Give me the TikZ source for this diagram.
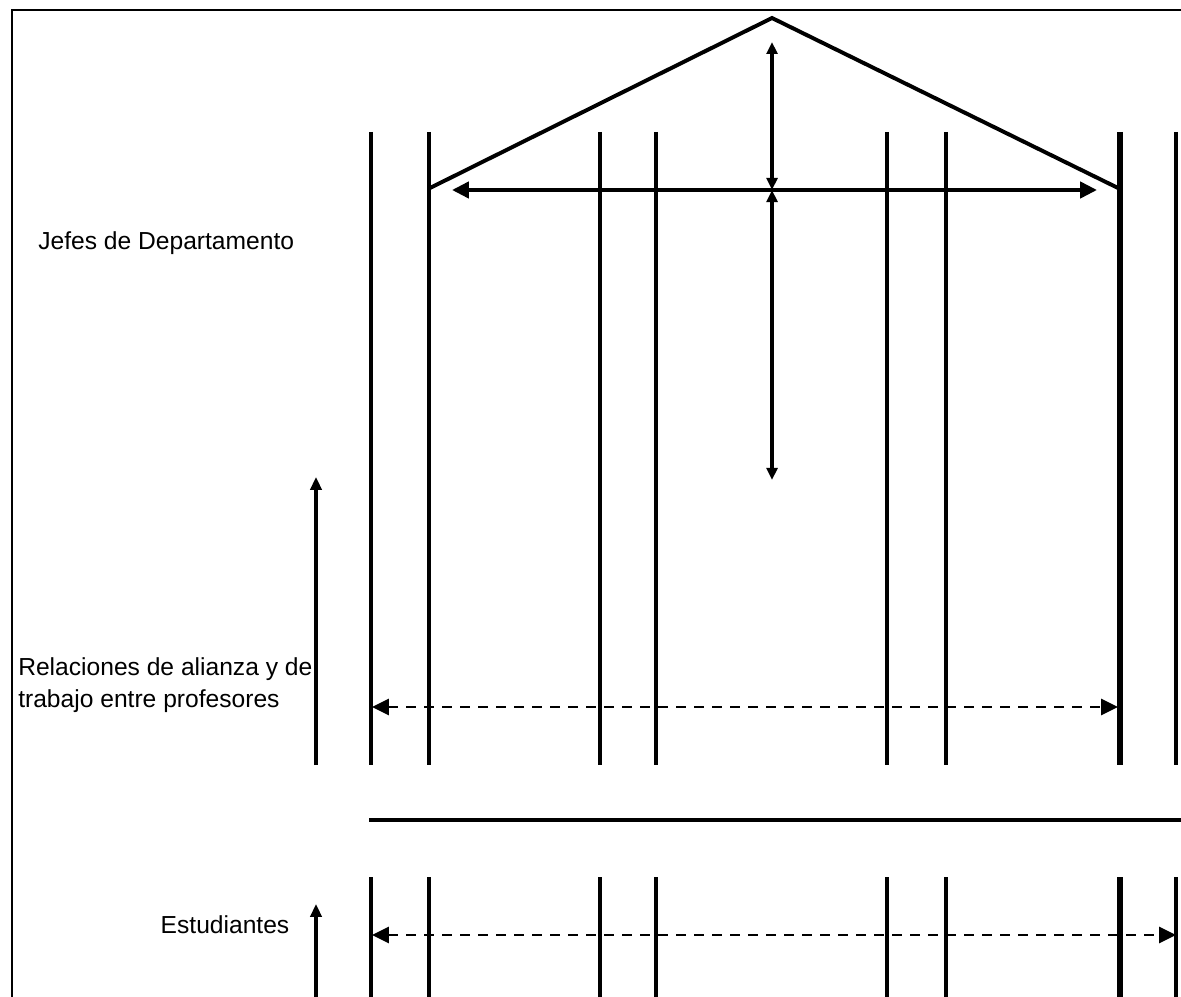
\documentclass[tikz,border=0pt]{standalone}
\usepackage{fontspec}
\setmainfont{Liberation Sans}
\usetikzlibrary{arrows.meta,positioning}
\tikzset{wall/.style={line width=2.4pt},
         tipboth/.style={{Triangle[length=0.42cm,width=0.4cm]}-{Triangle[length=0.42cm,width=0.4cm]}},
         tipsmall/.style={{Triangle[length=0.3cm,width=0.27cm]}-{Triangle[length=0.3cm,width=0.27cm]}},
         tipup/.style={-{Triangle[length=0.32cm,width=0.28cm]}},
         dashline/.style={line width=1.9pt,dash pattern=on 0.25cm off 0.2cm},
         txt/.style={font=\fontsize{17.5}{22.5}\selectfont,inner sep=0pt}}
\begin{document}
\begin{tikzpicture}[x=0.025cm,y=-0.025cm]
            \useasboundingbox (0,0) rectangle (1181,997);
            % frame
            \draw[line width=1.8pt] (12,997) -- (12,10) -- (1181,10);
            % roof
            \coordinate (apex) at (772,18);
            \coordinate (eaveL) at (430,188);
            \coordinate (eaveR) at (1118,188);
            \draw[line width=2.8pt,line join=miter] (eaveL) -- (apex) -- (eaveR);
            % columns
            \foreach \x in {371,429,600,656,887,946,1176} {
                \draw[wall] (\x,132) -- (\x,765);
                \draw[wall] (\x,877) -- (\x,997);
            }
            \draw[line width=3.8pt] (1120,132) -- (1120,765);
            \draw[line width=3.8pt] (1120,877) -- (1120,997);
            % floor
            \draw[line width=2.8pt] (369,820) -- (1181,820);
            % arrows under the roof
            \coordinate (mid) at (772,190);
            \draw[line width=2.8pt,tipboth] (452,190) -- (1097,190);
            \draw[line width=2.2pt,tipsmall] (mid) -- (772,42);
            \draw[line width=2.2pt,tipsmall] (mid) -- (772,480);
            % left arrows
            \draw[line width=2.2pt,tipup] (316,765) -- (316,477);
            \draw[line width=2.2pt,tipup] (316,997) -- (316,904);
            % dashed arrows
            \draw[dashline,tipboth] (372,707) -- (1118,707);
            \draw[dashline,tipboth] (372,935) -- (1176,935);
            % labels
            \node[txt,anchor=west] (jefes) at (38,243) {Jefes de Departamento};
            \node[txt,anchor=west,align=left] (relaciones) at (18,685) {Relaciones de alianza y de\\trabajo entre profesores};
            \node[txt] (estudiantes) at (225,925) {Estudiantes};
        \end{tikzpicture}
\end{document}
